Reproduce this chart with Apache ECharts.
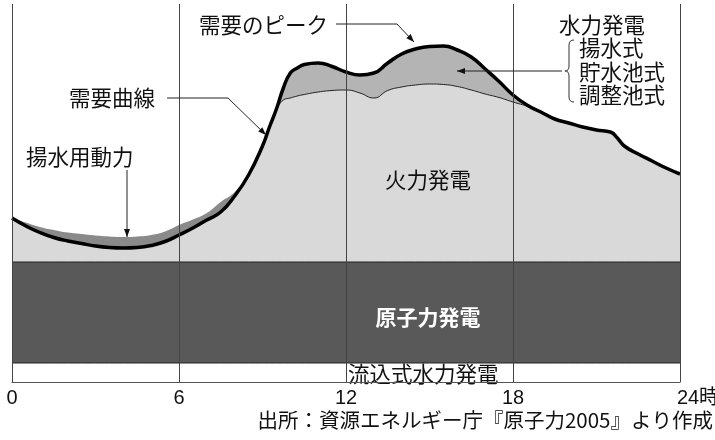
<!DOCTYPE html>
<html><head><meta charset="utf-8">
<script src="https://cdn.jsdelivr.net/npm/echarts@6/dist/echarts.min.js"></script>
<style>html,body{margin:0;padding:0;background:#fff}#c{width:715px;height:440px}</style>
</head><body><div id="c"></div>
<script>
// ---- data (relative load units) ----
const hours   = [0,0.5,1,1.5,2,2.5,3,3.5,4,4.5,5,5.5,6,6.5,7,7.5,8,8.5,9,9.25,9.5,9.75,10,10.25,10.5,11,11.5,12,12.5,13,13.5,14,14.5,15,15.5,16,16.5,17,17.5,18,18.5,19,19.5,20,20.5,21,21.5,21.75,22,22.5,23,23.5,24];
// 需要曲線 (demand)
const demand  = [164,156,149.5,144.5,141,138.5,136,134.5,134,134.5,136.5,140.5,147,154,162,170,186,207,236,255,273,294,309,314,317.5,319,315.5,310,307,309,319,328,333,335.5,336,332,325,313,300.5,287,277,270,263,259,255,252,250,244,236,228,221,214,208];
// 火力発電の上端 (thermal + base; above demand at night = 揚水用動力)
const thermal = [164,159.5,155,152,149.5,148,146.5,145.5,145,145.5,147,150.5,157,162.5,169,180,190,207,236,255,273,282,284,286,287.5,290,291.5,292,289,284,291.5,295,297,298,297.5,295.5,292,288,284.5,280,276,270,263,259,255,252,250,244,236,228,221,214,208];
const runOfRiver = 19;   // 流込式水力発電
const nuclear    = 101;  // 原子力発電
const xTicks = [0, 6, 12, 18, 24];
const hourUnit = '時';

const JP = "'Noto Sans CJK JP', sans-serif";
const pair = arr => hours.map((h, i) => [h, arr[i]]);
const minCurve = hours.map((h, i) => Math.min(demand[i], thermal[i]));
const thinLine = hours.map((h, i) => [h, thermal[i]]).filter(p => p[0] >= 9.5 && p[0] <= 18.5);
const constant = v => hours.map(h => [h, v]);

const chart = echarts.init(document.getElementById('c'));
const noLine = { width: 0 };

function arrowHead(tip, from, len, w) {
  const dx = tip[0] - from[0], dy = tip[1] - from[1];
  const d = Math.hypot(dx, dy), ux = dx / d, uy = dy / d;
  const bx = tip[0] - ux * len, by = tip[1] - uy * len;
  return { type: 'polygon', z: 20, shape: { points: [tip, [bx - uy * w, by + ux * w], [bx + uy * w, by - ux * w]] }, style: { fill: '#111' } };
}
function arrow(points) {
  const n = points.length;
  return [
    { type: 'polyline', z: 20, shape: { points: points }, style: { stroke: '#222', lineWidth: 1, fill: null } },
    arrowHead(points[n - 1], points[n - 2], 8, 3)
  ];
}
function label(text, x, y, opts) {
  opts = opts || {};
  return { type: 'text', z: opts.z || 20, x: x, y: y,
    style: { text: text, font: (opts.bold ? 'bold ' : '') + (opts.size || 21.5) + 'px ' + JP,
      fill: opts.fill || '#111', align: opts.align || 'left', verticalAlign: 'middle' } };
}
const braceStyle = { stroke: '#333', lineWidth: 1, fill: null };
function quad(x1, y1, cx, cy, x2, y2) {
  return { type: 'bezierCurve', z: 20, shape: { x1: x1, y1: y1, cpx1: cx, cpy1: cy, x2: x2, y2: y2 }, style: braceStyle };
}
function seg(x1, y1, x2, y2) {
  return { type: 'line', z: 20, shape: { x1: x1, y1: y1, x2: x2, y2: y2 }, style: braceStyle };
}

const graphics = [].concat(
  label('需要のピーク', 199, 25),
  arrow([[336, 24], [397, 24], [414, 42]]),
  label('需要曲線', 69, 98),
  arrow([[167, 98], [228, 98], [266, 135]]),
  label('揚水用動力', 26, 157),
  arrow([[127, 170], [127, 237]]),
  label('火力発電', 428, 180, { align: 'center' }),
  label('原子力発電', 428, 317, { align: 'center', bold: true, fill: '#fff', size: 21 }),
  label('流込式水力発電', 348, 374, { z: 6, size: 21.5 }),
  label('水力発電', 559, 25),
  label('揚水式', 579, 48),
  label('貯水池式', 579, 72),
  label('調整池式', 579, 95),
  quad(574, 40, 569, 40, 569, 45), seg(569, 45, 569, 66), quad(569, 66, 569, 71, 565, 71),
  quad(565, 71, 569, 71, 569, 76), seg(569, 76, 569, 97), quad(569, 97, 569, 102, 574, 102),
  arrow([[562, 71], [457, 71]]),
  label('出所：資源エネルギー庁『原子力2005』より作成', 713, 420, { align: 'right', size: 20.5 })
);

chart.setOption({
  animation: false,
  backgroundColor: '#fff',
  grid: { left: 12, right: 35, top: 4, bottom: 58, containLabel: false, outerBoundsMode: 'none' },
  xAxis: {
    type: 'value', min: 0, max: 24, interval: 6, z: 10,
    axisLine: { show: true, lineStyle: { color: '#555', width: 1 } },
    axisTick: { show: false },
    splitLine: { show: true, lineStyle: { color: '#444', width: 1 } },
    axisLabel: {
      margin: 6, color: '#111', fontSize: 20, fontFamily: 'Liberation Sans, Arial, sans-serif',
      formatter: v => v === 24 ? '{last|' + v + hourUnit + '}' : String(v),
      rich: { last: { fontSize: 20, fontFamily: 'Liberation Sans, ' + JP, padding: [0, 0, 0, 36] } }
    }
  },
  yAxis: { type: 'value', min: 0, max: 378, show: false },
  series: [
    { name: '水力発電', type: 'line', z: 2, smooth: 0.5, symbol: 'none', data: pair(demand), lineStyle: noLine, areaStyle: { color: '#b4b4b4', opacity: 1 } },
    { name: '揚水用動力', type: 'line', z: 2, smooth: 0.5, symbol: 'none', data: pair(thermal), lineStyle: noLine, areaStyle: { color: '#8a8a8a', opacity: 1 } },
    { name: '火力発電', type: 'line', z: 2, smooth: 0.5, symbol: 'none', data: pair(minCurve), lineStyle: noLine, areaStyle: { color: '#d9d9d9', opacity: 1 } },
    { name: '原子力発電', type: 'line', z: 3, symbol: 'none', data: constant(runOfRiver + nuclear), lineStyle: { color: '#222', width: 1 }, areaStyle: { color: '#595959', opacity: 1 } },
    { name: '流込式水力発電', type: 'line', z: 4, symbol: 'none', data: constant(runOfRiver), lineStyle: { color: '#222', width: 1 }, areaStyle: { color: '#fff', opacity: 1 } },
    { name: '火力上端', type: 'line', z: 6, smooth: 0.5, symbol: 'none', data: thinLine, lineStyle: { color: '#222', width: 1 } },
    { name: '需要曲線', type: 'line', z: 7, smooth: 0.5, symbol: 'none', data: pair(demand), lineStyle: { color: '#000', width: 3.5 } }
  ],
  graphic: graphics
});
</script>
</body></html>
